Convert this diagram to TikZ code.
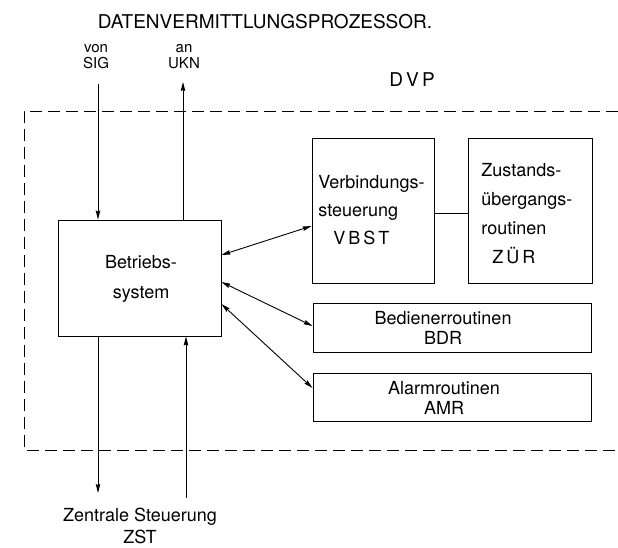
\documentclass[tikz,border=0pt]{standalone}
\usepackage{fontspec}
\setmainfont{TeX Gyre Heros}
\usetikzlibrary{arrows.meta}
\begin{document}
\begin{tikzpicture}[x=1pt,y=-1pt,
  line width=0.9pt,
  tip/.style={-{Stealth[length=9pt,width=4.5pt,inset=1pt]}},
  dtip/.style={{Stealth[length=9pt,width=4.5pt,inset=1pt]}-{Stealth[length=9pt,width=4.5pt,inset=1pt]}},
  box/.style={draw, inner sep=0pt},
  boxtext/.style={font=\fontsize{18}{28}\selectfont, inner sep=0pt},
  lbl/.style={font=\fontsize{15}{16}\selectfont, align=center, inner sep=0pt},
  frame/.style={dash pattern=on 12pt off 6pt}]
\useasboundingbox (0,0) rectangle (618,547);

% title
\node[font=\fontsize{19}{22}\selectfont, inner sep=0pt] (title) at (265,22) {DATENVERMITTLUNGSPROZESSOR.};
\node[font=\fontsize{19}{22}\selectfont, inner sep=0pt] (dvp) at (412,80) {D\,V\,P};

% frame
\draw[frame] (618,111) -- (24,111) -- (24,450) -- (618,450);

% boxes
\node[box, minimum width=163pt, minimum height=116pt] (bs) at (139.5,278) {};
\node[boxtext, align=center, font=\fontsize{18}{30}\selectfont] (bstext) at (141,279) {Betriebs-\\system};

\node[box, minimum width=122pt, minimum height=145pt] (vbst) at (373,210.5) {};
\node[boxtext, align=left, anchor=west] (vbsttext) at (318,210) {Verbindungs-\\steuerung\\\hspace{15pt}V\,B\,S\,T};

\node[box, minimum width=124pt, minimum height=145pt] (zuer) at (530,210.5) {};
\node[boxtext, align=left, anchor=west, font=\fontsize{18}{29}\selectfont] (zuertext) at (481,214) {Zustands-\\übergangs-\\routinen\\\hspace{11pt}Z\,Ü\,R};

\node[box, minimum width=278pt, minimum height=49pt] (bdr) at (452,327.5) {};
\node[boxtext, align=center, font=\fontsize{18}{20}\selectfont] (bdrtext) at (443,328) {Bedienerroutinen\\BDR};

\node[box, minimum width=278pt, minimum height=48pt] (amr) at (452,397) {};
\node[boxtext, align=center, font=\fontsize{18}{20}\selectfont] (amrtext) at (444,398) {Alarmroutinen\\AMR};

% connections
\draw (vbst.east |- 0,213) -- (zuer.west |- 0,213);
\draw[dtip] ([yshift=23pt]bs.east) -- ([yshift=-15.5pt]vbst.west);
\draw[dtip] ([yshift=-4pt]bs.east) -- ([yshift=1.5pt]bdr.west);
\draw[dtip] ([yshift=-26pt]bs.east) -- ([yshift=9pt]amr.west);

% external labels
\node[lbl] (sig) at (96,57) {von\\SIG};
\node[lbl] (ukn) at (184,57) {an\\UKN};
\node[font=\fontsize{18}{22}\selectfont, align=center, inner sep=0pt] (zst) at (140,526) {Zentrale Steuerung\\ZST};

\coordinate (sigtop) at (98,84);
\coordinate (ukntop) at (183,82);
\coordinate (zstbot) at (98,493);
\coordinate (zstin) at (186,498);

\draw[tip] (sigtop) -- (bs.north -| sigtop);
\draw[tip] (bs.north -| ukntop) -- (ukntop);
\draw[tip] (bs.south -| zstbot) -- (zstbot);
\draw[tip] (zstin) -- (bs.south -| zstin);
\end{tikzpicture}
\end{document}
